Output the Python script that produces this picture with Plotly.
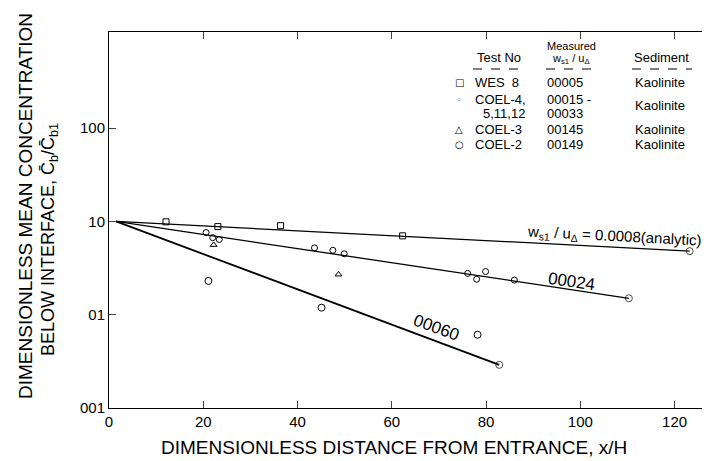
import plotly.graph_objects as go

# ---------------- data ----------------
# WES 8 (squares) - along analytic line
wes8_x = [12.1, 23.1, 36.4, 62.3]
wes8_y = [0.99, 0.88, 0.90, 0.70]
# COEL-4,5,11,12 (small open circles)
coel4_x = [20.6, 22.0, 23.4, 43.6, 47.5, 49.9, 76.1, 78.0, 79.9, 86.0]
coel4_y = [0.76, 0.67, 0.64, 0.52, 0.49, 0.45, 0.277, 0.24, 0.29, 0.235]
# COEL-3 (triangles)
coel3_x = [22.2, 48.7]
coel3_y = [0.56, 0.27]
# COEL-2 (circles)
coel2_x = [21.1, 45.1, 78.2]
coel2_y = [0.23, 0.119, 0.061]

# fitted / analytic lines (start, end)
line_names = ["0.0008 (analytic)", "0.0024", "0.0060"]
line_x = [[1.5, 123.2], [1.5, 110.3], [1.5, 82.8]]
line_y = [[1.0, 0.48], [1.0, 0.15], [1.0, 0.029]]

ytick_vals = [0.01, 0.1, 1, 10]
ytick_text = ["001", "01", "10", "100"]
xtick_vals = [0, 20, 40, 60, 80, 100, 120]

FONT = "Liberation Sans"
W, H = 710, 461
L, R, T, B = 101, 1, 24, 61
PW, PH = W - L - R, H - T - B


def px(x):
    return (x - L) / PW


def py(y):
    return (H - B - y) / PH


fig = go.Figure()

lw = [1.3, 1.3, 1.8]
for i in range(3):
    fig.add_trace(go.Scatter(
        x=line_x[i], y=line_y[i], mode="lines+markers",
        line=dict(color="black", width=lw[i]),
        marker=dict(symbol="circle-open", size=[0, 7], color="black", line=dict(width=1)),
        showlegend=False, hoverinfo="skip"))

mk = dict(color="black", line=dict(width=1, color="black"))
fig.add_trace(go.Scatter(x=wes8_x, y=wes8_y, mode="markers", name="WES 8",
                         marker=dict(symbol="square-open", size=6, **mk), showlegend=False))
fig.add_trace(go.Scatter(x=coel4_x, y=coel4_y, mode="markers", name="COEL-4,5,11,12",
                         marker=dict(symbol="circle-open", size=6, **mk), showlegend=False))
fig.add_trace(go.Scatter(x=coel3_x, y=coel3_y, mode="markers", name="COEL-3",
                         marker=dict(symbol="triangle-up-open", size=6, **mk), showlegend=False))
fig.add_trace(go.Scatter(x=coel2_x, y=coel2_y, mode="markers", name="COEL-2",
                         marker=dict(symbol="circle-open", size=7, **mk), showlegend=False))

ann = []
# line labels
ann.append(dict(x=px(606), y=py(228), text="w<sub>s1</sub> / u<sub>Δ</sub> = 0.0008(analytic)",
                textangle=3, font=dict(size=15, family=FONT, color="black")))
ann.append(dict(x=px(563), y=py(273), text="00024",
                textangle=8, font=dict(size=17, family=FONT, color="black")))
ann.append(dict(x=px(428), y=py(319), text="00060",
                textangle=20, font=dict(size=17, family=FONT, color="black")))

# axis titles
ann.append(dict(x=px(17), y=py(198), text="DIMENSIONLESS MEAN CONCENTRATION", textangle=-90,
                font=dict(size=19, family=FONT, color="black")))
ann.append(dict(x=px(41), y=py(232), text="BELOW INTERFACE, C̄<sub>b</sub>/C̄<sub>b1</sub>",
                textangle=-90, font=dict(size=18, family=FONT, color="black")))
ann.append(dict(x=px(386), y=py(439), text="DIMENSIONLESS DISTANCE FROM ENTRANCE, x/H",
                font=dict(size=19, family=FONT, color="black")))

# legend table
tf = dict(size=13, family=FONT, color="black")
sf = dict(size=11, family=FONT, color="black")
ann += [
    dict(x=px(491), y=py(49), text="Test No", font=tf),
    dict(x=px(563), y=py(38), text="Measured", font=sf),
    dict(x=px(563), y=py(51), text="w<sub>s1</sub> / u<sub>Δ</sub>", font=sf),
    dict(x=px(653), y=py(49), text="Sediment", font=tf),
]
rows = [
    ("□", "WES  8", "00005", "Kaolinite", 74),
    ("◦", "COEL-4,", "00015 -", "", 91),
    ("", "5,11,12", "00033", "", 105),
    ("△", "COEL-3", "00145", "Kaolinite", 121),
    ("○", "COEL-2", "00149", "Kaolinite", 136),
]
for sym, test, val, sed, yy in rows:
    if sym:
        ann.append(dict(x=px(451), y=py(yy), text=sym, font=dict(size=10, family="DejaVu Sans", color="black")))
    ann.append(dict(x=px(465) if test != "5,11,12" else px(473), y=py(yy), text=test, xanchor="left", font=tf))
    ann.append(dict(x=px(537), y=py(yy), text=val, xanchor="left", font=tf))
    if sed:
        ann.append(dict(x=px(652), y=py(yy), text=sed, font=tf))
ann.append(dict(x=px(652), y=py(98), text="Kaolinite", font=tf))

for a in ann:
    a.setdefault("xref", "paper")
    a.setdefault("yref", "paper")
    a.setdefault("showarrow", False)
    a.setdefault("xanchor", "center")
    a.setdefault("yanchor", "middle")

shapes = []
for x0, x1 in [(465, 518), (538, 588), (624, 684)]:
    shapes.append(dict(type="line", xref="paper", yref="paper", x0=px(x0), x1=px(x1),
                       y0=py(61), y1=py(61), line=dict(color="black", width=1, dash="dash")))

fig.update_layout(
    width=W, height=H,
    margin=dict(l=L, r=R, t=T, b=B, autoexpand=False),
    paper_bgcolor="white", plot_bgcolor="white",
    font=dict(family=FONT, color="black"),
    annotations=ann, shapes=shapes,
    xaxis=dict(range=[0, 129], tickvals=xtick_vals, ticks="inside", ticklen=7,
               showline=True, linecolor="black", linewidth=1, mirror="ticks",
               showgrid=False, zeroline=False, tickfont=dict(size=15), automargin=False),
    yaxis=dict(type="log", range=[-2, 2.03], tickvals=ytick_vals, ticktext=ytick_text,
               ticks="inside", ticklen=7, showline=True, linecolor="black", linewidth=1,
               mirror="ticks", showgrid=False, zeroline=False, tickfont=dict(size=15),
               automargin=False),
)

fig.write_html("out.html")
